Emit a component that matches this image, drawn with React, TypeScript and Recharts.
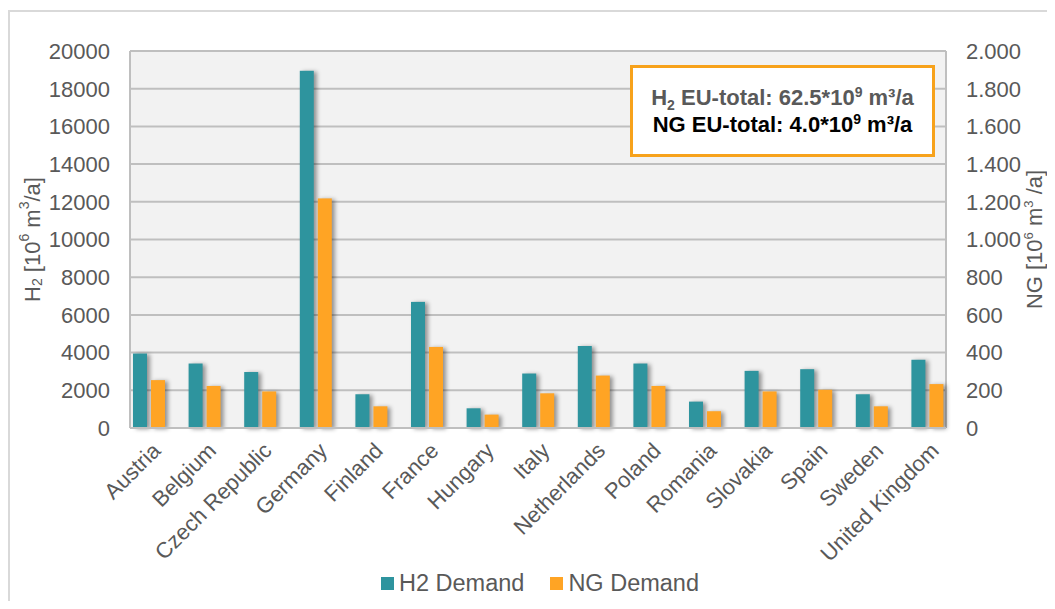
import { Bar, BarChart, CartesianGrid, Legend, XAxis, YAxis } from "recharts";

const countries = [
  "Austria",
  "Belgium",
  "Czech Republic",
  "Germany",
  "Finland",
  "France",
  "Hungary",
  "Italy",
  "Netherlands",
  "Poland",
  "Romania",
  "Slovakia",
  "Spain",
  "Sweden",
  "United Kingdom",
];

// H2 demand [10^6 m3/a], left axis
const h2Demand = [3950, 3420, 2970, 18950, 1790, 6690, 1045, 2890, 4350, 3420, 1400, 3030, 3120, 1790, 3620];
// NG demand [10^6 m3/a], right axis
const ngDemand = [254, 223, 194, 1218, 115, 430, 71, 184, 278, 223, 89, 194, 203, 115, 233];

const leftTicks = [0, 2000, 4000, 6000, 8000, 10000, 12000, 14000, 16000, 18000, 20000];
const rightTicks = [0, 200, 400, 600, 800, 1000, 1200, 1400, 1600, 1800, 2000];

const H2_COLOR = "#2E949E";
const NG_COLOR = "#FFA424";
const TEXT = "#595959";
const FONT = "'Liberation Sans', Arial, sans-serif";

const data = countries.map((country, i) => ({
  country,
  h2: h2Demand[i],
  ng: ngDemand[i],
}));

const formatDe = (v: number) =>
  v >= 1000 ? `${Math.floor(v / 1000)}.${String(v % 1000).padStart(3, "0")}` : String(v);

const ShadowBar = (props: any) => {
  const { x, y, width, height, fill } = props;
  if (!height || height <= 0) return null;
  return (
    <rect
      x={x}
      y={y}
      width={width}
      height={height}
      fill={fill}
      style={{ filter: "drop-shadow(3px 1px 2px rgba(0,0,0,0.4))" }}
    />
  );
};

const CountryTick = (props: any) => {
  const { x, y, payload } = props;
  const tx = x + 13;
  const ty = y + 24;
  return (
    <text
      x={tx}
      y={ty}
      textAnchor="end"
      transform={`rotate(-45, ${tx}, ${ty})`}
      fill={TEXT}
      fontSize={22}
      fontFamily={FONT}
    >
      {payload.value}
    </text>
  );
};

const LeftLabel = (props: any) => {
  const { viewBox } = props;
  const cx = 22;
  const cy = viewBox.y + viewBox.height / 2;
  return (
    <text
      x={cx}
      y={cy}
      transform={`rotate(-90, ${cx}, ${cy})`}
      textAnchor="middle"
      dominantBaseline="central"
      fill={TEXT}
      fontSize={22}
      fontFamily={FONT}
    >
      <tspan>H</tspan>
      <tspan fontSize={14} dy={5}>2</tspan>
      <tspan dy={-5}> [10</tspan>
      <tspan fontSize={14} dy={-8}>6</tspan>
      <tspan dy={8}> m</tspan>
      <tspan fontSize={14} dy={-8}>3</tspan>
      <tspan dy={8}>/a]</tspan>
    </text>
  );
};

const RightLabel = (props: any) => {
  const { viewBox } = props;
  const cx = viewBox.x + 88;
  const cy = viewBox.y + viewBox.height / 2;
  return (
    <text
      x={cx}
      y={cy}
      transform={`rotate(-90, ${cx}, ${cy})`}
      textAnchor="middle"
      dominantBaseline="central"
      fill={TEXT}
      fontSize={22}
      fontFamily={FONT}
    >
      <tspan>NG [10</tspan>
      <tspan fontSize={13} dy={-6}>6</tspan>
      <tspan dy={6}> m</tspan>
      <tspan fontSize={13} dy={-6}>3</tspan>
      <tspan dy={6}> /a]</tspan>
    </text>
  );
};

const LegendContent = () => (
  <div
    style={{
      display: "flex",
      justifyContent: "center",
      gap: 26,
      paddingTop: 3,
      fontFamily: FONT,
      fontSize: 23.5,
      color: TEXT,
      lineHeight: "22px",
    }}
  >
    {[
      { label: "H2 Demand", color: H2_COLOR },
      { label: "NG Demand", color: NG_COLOR },
    ].map((item) => (
      <div key={item.label} style={{ display: "flex", alignItems: "center" }}>
        <span
          style={{ display: "inline-block", width: 13, height: 13, background: item.color, marginRight: 5 }}
        />
        {item.label}
      </div>
    ))}
  </div>
);

export default function App() {
  return (
    <div style={{ paddingTop: 2, height: 591, overflow: "hidden" }}>
      <div
        style={{
          position: "relative",
          width: 1037,
          height: 589,
          borderTop: "2px solid #D9D9D9",
          borderLeft: "2px solid #D9D9D9",
          background: "#fff",
          overflow: "hidden",
        }}
      >
        <BarChart
          width={1037}
          height={589}
          data={data}
          margin={{ top: 39, right: 0, bottom: 0, left: 0 }}
          barSize={14}
          barGap={4}
        >
          <CartesianGrid
            yAxisId="left"
            fill="#F2F2F2"
            stroke="#BFBFBF"
            strokeWidth={2}
            verticalCoordinatesGenerator={({ offset }: any) => [offset.left, offset.left + offset.width]}
          />
          <XAxis
            dataKey="country"
            interval={0}
            height={141}
            padding={{ left: -9, right: -9 }}
            tickLine={false}
            tickSize={0}
            tickMargin={0}
            axisLine={{ stroke: "#BFBFBF", strokeWidth: 2 }}
            tick={<CountryTick />}
          />
          <YAxis
            yAxisId="left"
            orientation="left"
            width={120}
            domain={[0, 20000]}
            ticks={leftTicks}
            interval={0}
            axisLine={false}
            tickLine={false}
            tickSize={6}
            tickMargin={14}
            tick={{ fill: TEXT, fontSize: 22, fontFamily: FONT }}
            label={<LeftLabel />}
          />
          <YAxis
            yAxisId="right"
            orientation="right"
            width={101}
            domain={[0, 2000]}
            ticks={rightTicks}
            interval={0}
            axisLine={false}
            tickLine={false}
            tickSize={6}
            tickMargin={14}
            tickFormatter={formatDe}
            tick={{ fill: TEXT, fontSize: 22, fontFamily: FONT, textAnchor: "start" }}
            label={<RightLabel />}
          />
          <Legend
            verticalAlign="bottom"
            height={32}
            content={<LegendContent />}
            wrapperStyle={{ left: 355, width: 350 }}
          />
          <Bar
            yAxisId="left"
            dataKey="h2"
            name="H2 Demand"
            fill={H2_COLOR}
            shape={<ShadowBar />}
            isAnimationActive={false}
          />
          <Bar
            yAxisId="right"
            dataKey="ng"
            name="NG Demand"
            fill={NG_COLOR}
            shape={<ShadowBar />}
            isAnimationActive={false}
          />
        </BarChart>
        <div
          style={{
            position: "absolute",
            left: 620,
            top: 53,
            width: 305,
            height: 92,
            boxSizing: "border-box",
            border: "3px solid #F7A21B",
            background: "#fff",
            fontFamily: FONT,
            fontWeight: "bold",
            fontSize: 22,
            lineHeight: "27px",
            textAlign: "center",
            display: "flex",
            flexDirection: "column",
            justifyContent: "center",
            whiteSpace: "nowrap",
          }}
        >
          <div style={{ color: TEXT }}>
            H<sub style={{ fontSize: 14, lineHeight: 0 }}>2</sub> EU-total: 62.5*10
            <sup style={{ fontSize: 14, lineHeight: 0 }}>9</sup> m³/a
          </div>
          <div style={{ color: "#000" }}>
            NG EU-total: 4.0*10<sup style={{ fontSize: 14, lineHeight: 0 }}>9</sup> m³/a
          </div>
        </div>
      </div>
    </div>
  );
}
